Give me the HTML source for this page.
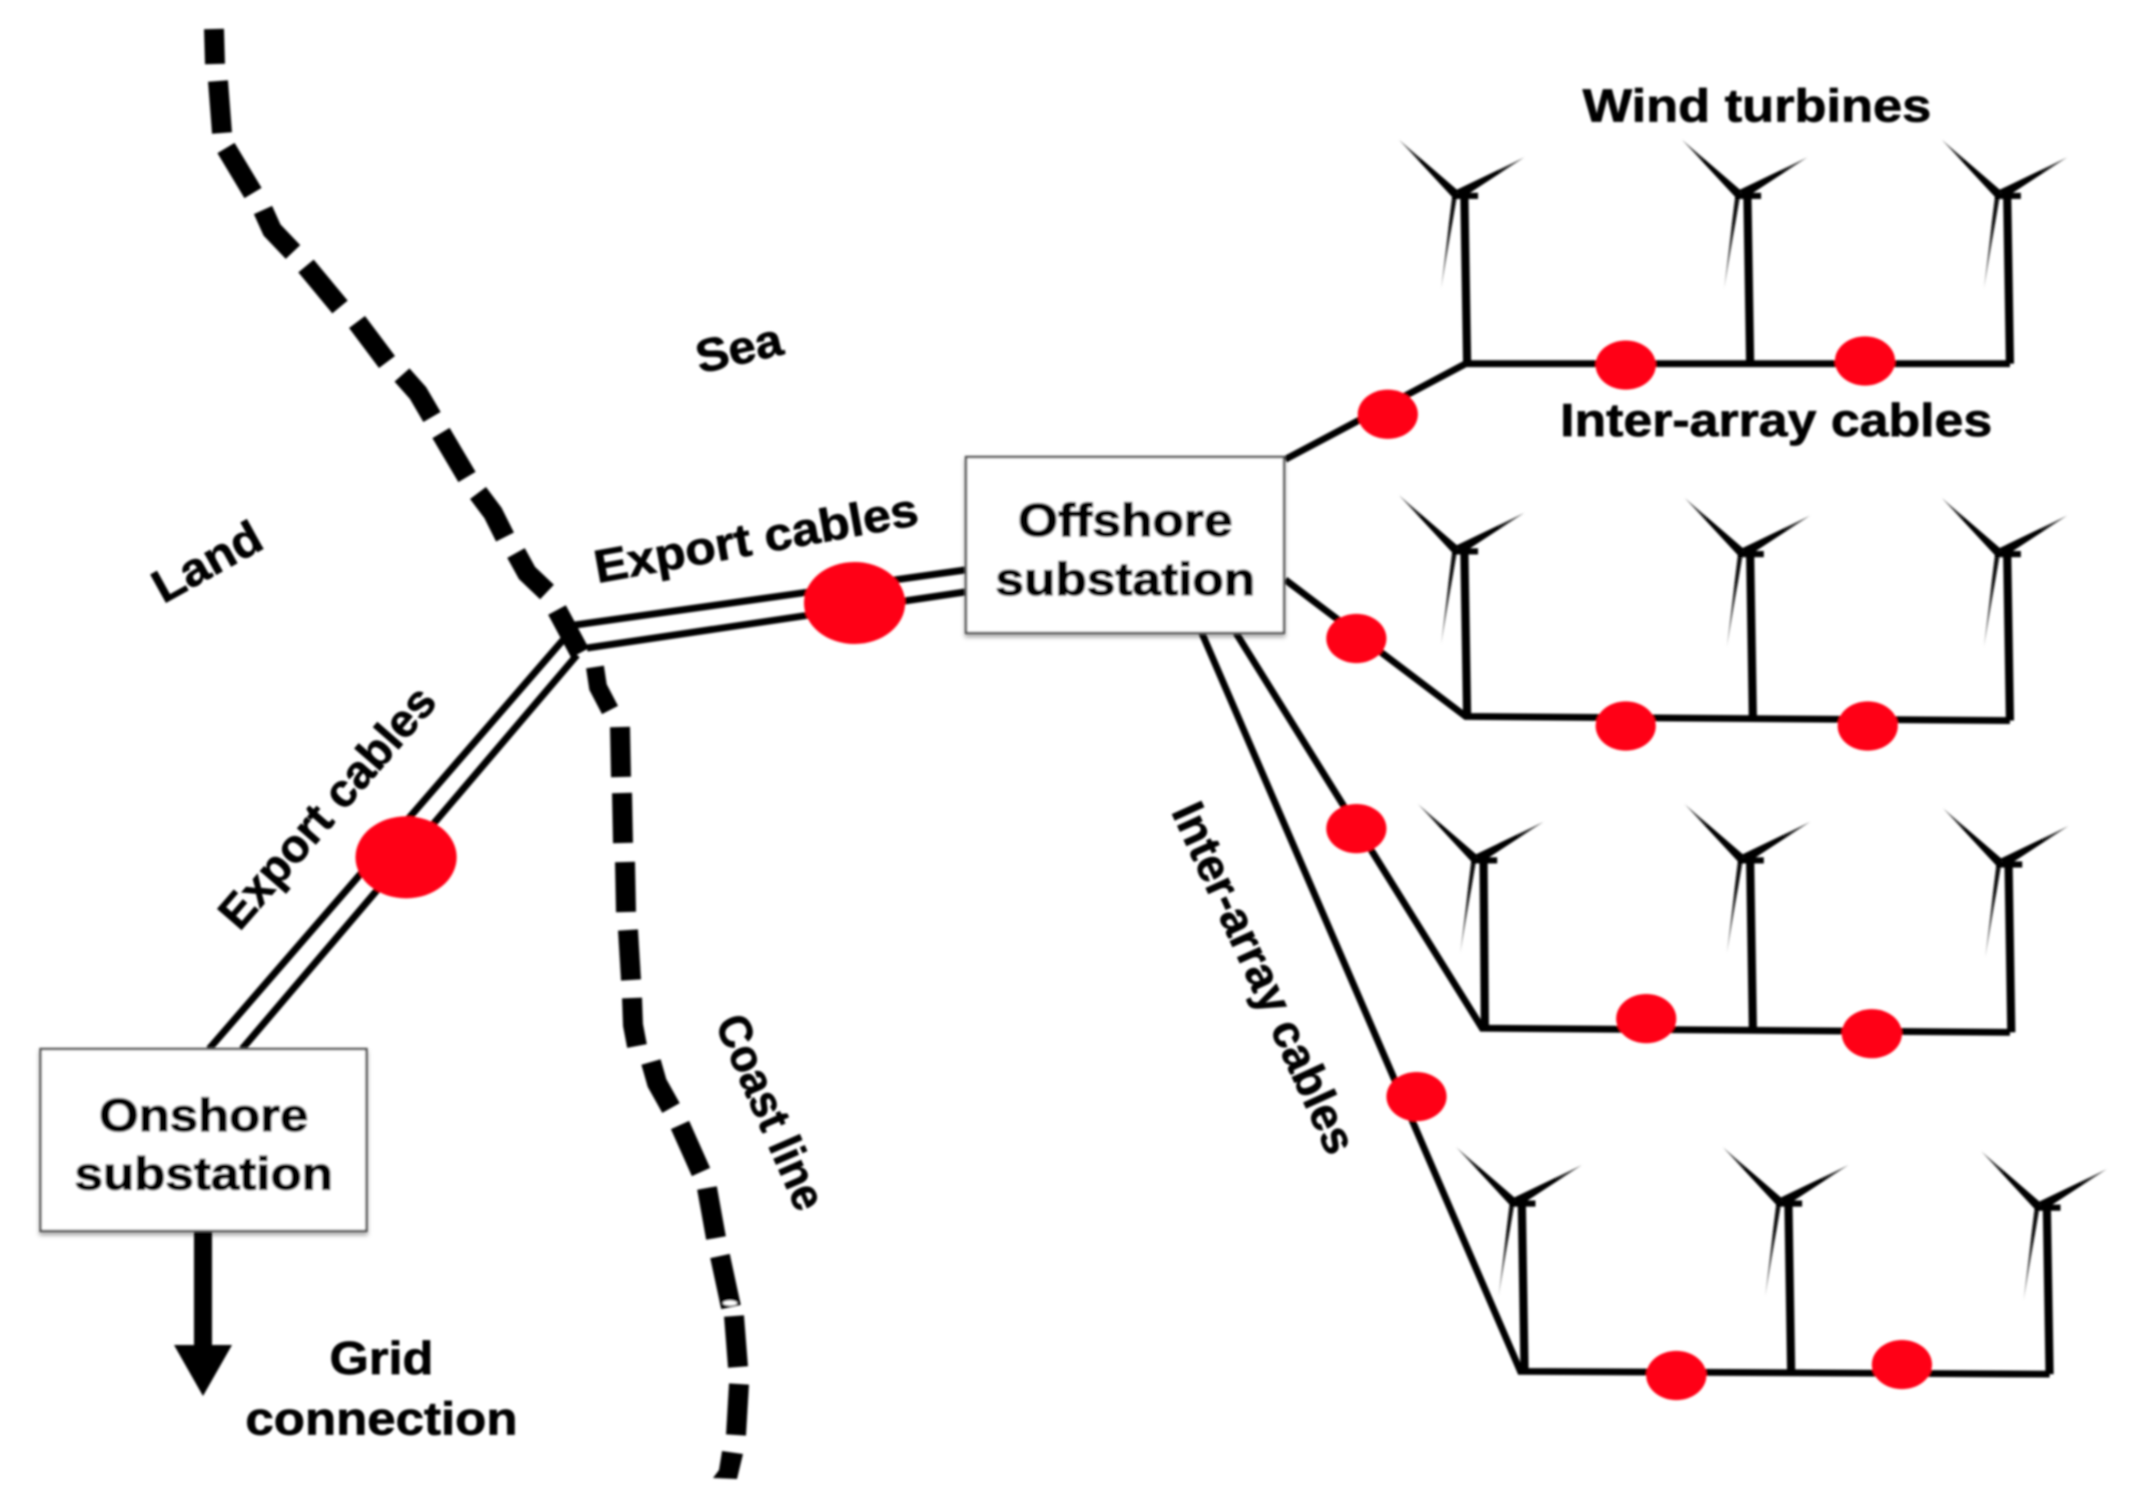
<!DOCTYPE html>
<html><head><meta charset="utf-8"><style>
html,body{margin:0;padding:0;background:#fff;width:2144px;height:1507px;overflow:hidden}
svg{display:block}
text{font-family:"Liberation Sans",sans-serif;font-weight:700;fill:#000;stroke:#000;stroke-width:.5px;font-size:34px;text-anchor:middle}
text.h{stroke-width:.9px}
</style></head><body>
<svg width="2144" height="1507" viewBox="0 0 2144 1507" xmlns="http://www.w3.org/2000/svg">
<defs>
<filter id="b" x="-5%" y="-5%" width="110%" height="110%"><feGaussianBlur stdDeviation="1"/></filter>
<filter id="s" x="-5%" y="-5%" width="110%" height="115%"><feDropShadow dx="0" dy="3" stdDeviation="2" flood-color="#000" flood-opacity="0.35"/></filter>
<linearGradient id="g1" x1="1" y1="1" x2="0" y2="0"><stop offset="0.6" stop-color="#000"/><stop offset="1" stop-color="#777"/></linearGradient>
<linearGradient id="g2" x1="0" y1="1" x2="1" y2="0"><stop offset="0.6" stop-color="#000"/><stop offset="1" stop-color="#777"/></linearGradient>
<linearGradient id="g3" x1="0" y1="0" x2="0" y2="1"><stop offset="0.3" stop-color="#111"/><stop offset="1" stop-color="#999"/></linearGradient>
<g id="t">
<polygon points="-48,-41 -4,-3 -9,1" fill="url(#g1)"/>
<polygon points="44,-28 -6,-4 -2,2" fill="url(#g2)"/>
<polygon points="-17,68 -9,1 -5.500,1" fill="url(#g3)"/>
<rect x="-9" y="-2" width="19" height="4.500" fill="#000"/>
</g>
</defs>
<rect width="2144" height="1507" fill="#fff"/>
<g filter="url(#b)">
<!-- coast line dashes -->
<g fill="none" stroke="#000" stroke-width="20">
<polyline points="214,29 215,64"/>
<polyline points="218,81 222,133"/>
<polyline points="226,148 253,193"/>
<polyline points="263,210 272,230 293,252"/>
<polyline points="306,266 340,307"/>
<polyline points="357,322 387,362"/>
<polyline points="402,375 418,393 432,417"/>
<polyline points="441,433 467,477"/>
<polyline points="478,493 493,513 505,537"/>
<polyline points="516,553 527,573 547,592"/>
<polyline points="557,610 580,653"/>
<polyline points="595,667 598,687 610,710" stroke-width="18"/>
<polyline points="620,727 621,777"/>
<polyline points="622,793 623,843"/>
<polyline points="625,862 626,912"/>
<polyline points="628,930 631,980"/>
<polyline points="632,998 633,1025 637,1046"/>
<polyline points="651,1062 657,1083 671,1108"/>
<polyline points="680,1125 701,1172"/>
<polyline points="707,1188 716,1238"/>
<polyline points="720,1256 731,1307"/>
<polyline points="734,1316 738,1367"/>
<polyline points="739,1384 736,1435"/>
</g>
<polygon points="722,1451 743,1454 737,1479 713,1478 719,1470"/>
<!-- export cables -->
<g stroke="#000" stroke-width="7" fill="none">
<line x1="575" y1="625" x2="965" y2="570"/>
<line x1="587" y1="648" x2="965" y2="592"/>
<line x1="563" y1="640" x2="209" y2="1049"/>
<line x1="577" y1="655" x2="242" y2="1049"/>
</g>
<g transform="scale(1.3673)">
<g stroke="#000" stroke-width="5" fill="none">
<polyline points="940,336 1072,266 1470,266"/>
<polyline points="940,424 1072,524 1470,527"/>
<polyline points="904,463 1084,752 1470,755"/>
<polyline points="879,463 1112,1003 1499,1005"/>
<g stroke-width="6">
<line x1="1071" y1="143" x2="1073" y2="266"/>
<line x1="1278" y1="143" x2="1280" y2="266"/>
<line x1="1468" y1="143" x2="1470" y2="266"/>
<line x1="1071" y1="403" x2="1073" y2="524"/>
<line x1="1280" y1="405" x2="1282" y2="526"/>
<line x1="1468" y1="405" x2="1470" y2="527"/>
<line x1="1085" y1="629" x2="1086" y2="752"/>
<line x1="1280" y1="629" x2="1282" y2="753"/>
<line x1="1469" y1="632" x2="1471" y2="755"/>
<line x1="1113" y1="880" x2="1115" y2="1003"/>
<line x1="1308" y1="880" x2="1310" y2="1004"/>
<line x1="1497" y1="883" x2="1499" y2="1005"/>
</g>
</g>
<use href="#t" x="1071" y="143"/><use href="#t" x="1278" y="143"/><use href="#t" x="1468" y="143"/>
<use href="#t" x="1071" y="403"/><use href="#t" x="1280" y="405"/><use href="#t" x="1468" y="405"/>
<use href="#t" x="1085" y="629"/><use href="#t" x="1280" y="629"/><use href="#t" x="1469" y="632"/>
<use href="#t" x="1113" y="880"/><use href="#t" x="1308" y="880"/><use href="#t" x="1497" y="883"/>
<g fill="#ff0016">
<ellipse cx="625" cy="441" rx="37" ry="30"/><ellipse cx="297" cy="627" rx="37" ry="30"/>
<ellipse cx="1015" cy="303" rx="22" ry="18"/><ellipse cx="1189" cy="267" rx="22" ry="18"/><ellipse cx="1364" cy="264" rx="22" ry="18"/>
<ellipse cx="992" cy="467" rx="22" ry="18"/><ellipse cx="1189" cy="531" rx="22" ry="18"/><ellipse cx="1366" cy="531" rx="22" ry="18"/>
<ellipse cx="992" cy="606" rx="22" ry="18"/><ellipse cx="1204" cy="745" rx="22" ry="18"/><ellipse cx="1369" cy="756" rx="22" ry="18"/>
<ellipse cx="1036" cy="802" rx="22" ry="18"/><ellipse cx="1226" cy="1006" rx="22" ry="18"/><ellipse cx="1391" cy="998" rx="22" ry="18"/>
</g>
</g>
<rect x="966" y="457" width="318" height="176" fill="#fff" stroke="#555" stroke-width="2.500" filter="url(#s)"/>
<rect x="40.500" y="1049" width="326" height="182" fill="#fff" stroke="#555" stroke-width="2.500" filter="url(#s)"/>
<rect x="194" y="1232" width="18" height="114"/>
<polygon points="174,1345 232,1345 203,1396"/>
<ellipse cx="730" cy="1303" rx="7" ry="2.500" fill="#fff"/>
<g transform="scale(1.3673)">
<text class="h" x="823" y="392" textLength="157" lengthAdjust="spacingAndGlyphs">Offshore</text>
<text class="h" x="823" y="435" textLength="190" lengthAdjust="spacingAndGlyphs">substation</text>
<text class="h" x="149" y="827" textLength="153" lengthAdjust="spacingAndGlyphs">Onshore</text>
<text class="h" x="149" y="870" textLength="189" lengthAdjust="spacingAndGlyphs">substation</text>
<text x="279" y="1005" textLength="76" lengthAdjust="spacingAndGlyphs">Grid</text>
<text x="279" y="1049" textLength="199" lengthAdjust="spacingAndGlyphs">connection</text>
<text x="1285" y="89" textLength="255" lengthAdjust="spacingAndGlyphs">Wind turbines</text>
<text x="1299" y="319" textLength="316" lengthAdjust="spacingAndGlyphs">Inter-array cables</text>
<text transform="translate(543,266) rotate(-13)" textLength="64" lengthAdjust="spacingAndGlyphs">Sea</text>
<text transform="translate(157,421) rotate(-29)" textLength="86" lengthAdjust="spacingAndGlyphs">Land</text>
<text transform="translate(555,405) rotate(-10.300)" textLength="240" lengthAdjust="spacingAndGlyphs">Export cables</text>
<text transform="translate(248,598) rotate(-49)" textLength="222" lengthAdjust="spacingAndGlyphs">Export cables</text>
<text transform="translate(914,720) rotate(65.500)" textLength="278" lengthAdjust="spacingAndGlyphs">Inter-array cables</text>
<text transform="translate(553,818) rotate(66.500)" textLength="152" lengthAdjust="spacingAndGlyphs">Coast line</text>
</g>
</g>
</svg>
</body></html>
